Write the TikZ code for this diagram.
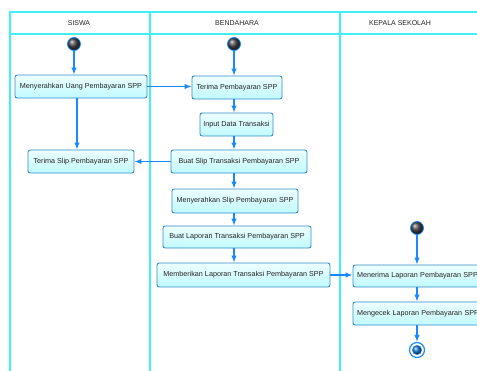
\documentclass[tikz,border=0pt]{standalone}
\usepackage{fontspec}
\setmainfont{Liberation Sans}
\usetikzlibrary{arrows.meta}
\definecolor{laneC}{RGB}{64,240,245}
\definecolor{flowC}{RGB}{26,136,255}
\definecolor{boxB}{RGB}{52,140,200}
\definecolor{boxT}{RGB}{238,255,255}
\definecolor{boxF}{RGB}{192,250,255}
\definecolor{txtC}{RGB}{35,35,35}
\tikzset{
  lane/.style={draw=laneC, line width=1.8pt},
  lanehead/.style={font=\fontsize{7}{8}\selectfont, text=txtC},
  act/.style={draw=boxB, line width=0.9pt, rounded corners=2.2pt,
    top color=boxT, bottom color=boxF, inner sep=0pt,
    font=\fontsize{7.2}{8}\selectfont, text=txtC},
  actcut/.style={act, text width=129pt, align=left},
  startnode/.style={circle, minimum size=13pt, inner sep=0pt, draw=flowC,
    line width=0.8pt, ball color=black!75},
  endnode/.style={circle, minimum size=15pt, inner sep=0pt, draw=flowC,
    line width=1.2pt, fill=white},
  flow/.style={draw=flowC, line width=1.2pt, -{Latex[length=7pt,width=5.5pt]}}
}
\begin{document}
\begin{tikzpicture}[x=1pt,y=-1pt]
\clip (0,0) rectangle (477,370);
\useasboundingbox (0,0) rectangle (477,370);

% swimlanes
\draw[lane] (10,371) -- (10,12) -- (490,12);
\draw[lane] (10,34) -- (490,34);
\draw[lane] (150,12) -- (150,371);
\draw[lane] (340,12) -- (340,371);
\node[lanehead] (hsiswa) at (79,23) {SISWA};
\node[lanehead] (hbend) at (237,23) {BENDAHARA};
\node[lanehead] (hkep) at (400,23) {KEPALA SEKOLAH};

% initial nodes
\node[startnode] (s1) at (74,44) {};
\node[startnode] (s2) at (234,44) {};
\node[startnode] (s3) at (417,228) {};

% activities
\node[act, minimum width=132pt, minimum height=23pt] (mu) at (81,86.5) {Menyerahkan Uang Pembayaran SPP};
\node[act, minimum width=90pt, minimum height=23pt] (tp) at (237,87.5) {Terima Pembayaran SPP};
\node[act, minimum width=73pt, minimum height=23pt] (id) at (236.5,124.5) {Input Data Transaksi};
\node[act, minimum width=106pt, minimum height=23pt] (ts) at (81,161.5) {Terima Slip Pembayaran SPP};
\node[act, minimum width=136pt, minimum height=23pt] (bs) at (239,161.5) {Buat Slip Transaksi Pembayaran SPP};
\node[act, minimum width=126pt, minimum height=24pt] (ms) at (235,201) {Menyerahkan Slip Pembayaran SPP};
\node[act, minimum width=148pt, minimum height=22pt] (bl) at (237,237) {Buat Laporan Transaksi Pembayaran SPP};
\node[act, minimum width=173pt, minimum height=24pt] (ml) at (243.5,275) {Memberikan Laporan Transaksi Pembayaran SPP};
\node[actcut, minimum width=137pt, minimum height=22pt] (mr) at (421.5,276) {Menerima Laporan Pembayaran SPP};
\node[actcut, minimum width=137pt, minimum height=23pt] (mc) at (421.5,313.5) {Mengecek Laporan Pembayaran SPP};

% final node
\node[endnode] (e1) at (417,350) {};
\node[circle, minimum size=9.5pt, inner sep=0pt, draw=boxB, line width=0.4pt,
      ball color=flowC!85!black] (e1in) at (e1) {};

% control flows
\coordinate (c1) at (77,0);
\draw[flow] (s1) -- (s1 |- mu.north);
\draw[flow] (mu.south -| c1) -- (ts.north -| c1);
\draw[flow] (mu.east) -- (mu.east -| tp.west);
\draw[flow] (s2) -- (s2 |- tp.north);
\draw[flow] (tp.south -| s2) -- (id.north -| s2);
\draw[flow] (id.south -| s2) -- (bs.north -| s2);
\draw[flow] (bs.west) -- (bs.west -| ts.east);
\draw[flow] (bs.south -| s2) -- (ms.north -| s2);
\draw[flow] (ms.south -| s2) -- (bl.north -| s2);
\draw[flow] (bl.south -| s2) -- (ml.north -| s2);
\draw[flow] (ml.east) -- (ml.east -| mr.west);
\draw[flow] (s3) -- (s3 |- mr.north);
\draw[flow] (mr.south -| s3) -- (mc.north -| s3);
\draw[flow] (mc.south -| s3) -- (e1);
\end{tikzpicture}
\end{document}
